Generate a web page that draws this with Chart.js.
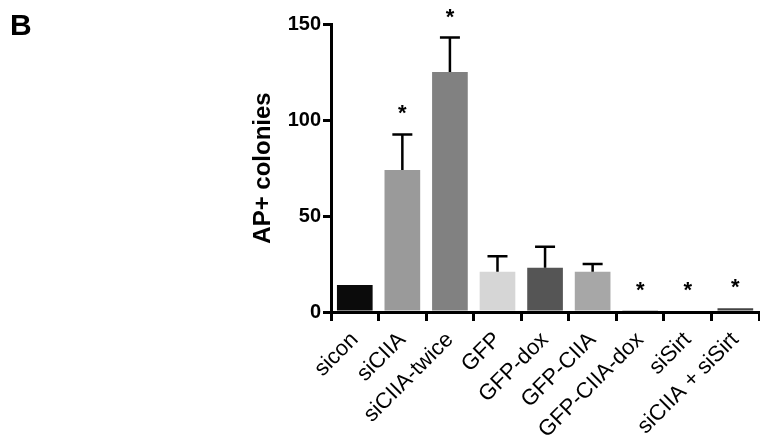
<!DOCTYPE html>
<html>
<head>
<meta charset="utf-8">
<script src="https://cdn.jsdelivr.net/npm/chart.js@4"></script>
<style>
  body { margin: 0; background: #fff; }
  #wrap { position: relative; width: 760px; height: 444px; }
  #panel { position: absolute; left: 10px; top: 8px; font: bold 30px "Liberation Sans", Arial, sans-serif; }
</style>
</head>
<body>
<div id="wrap">
  <div id="panel">B</div>
  <canvas id="ap_chart" width="760" height="444"></canvas>
</div>
<script>
const labels = ['sicon', 'siCIIA', 'siCIIA-twice', 'GFP', 'GFP-dox', 'GFP-CIIA', 'GFP-CIIA-dox', 'siSirt', 'siCIIA + siSirt'];
const colonies = [14, 74, 125, 21, 23, 21, 0.6, 0.8, 2];
const errors = [0, 18.5, 18, 8, 11, 4, 0, 0, 0];
const stars = [false, true, true, false, false, false, true, true, true];
const barColors = ['#0b0b0b', '#9a9a9a', '#818181', '#d6d6d6', '#555555', '#a7a7a7', '#444444', '#444444', '#444444'];
const yTicks = [0, 50, 100, 150];

const font = '"Liberation Sans", Arial, sans-serif';

// error bars (up only) + stars
const errorBars = {
    id: 'errorBars',
    afterDatasetsDraw(chart) {
        const ctx = chart.ctx;
        const y = chart.scales.y;
        const meta = chart.getDatasetMeta(0);
        ctx.save();
        ctx.strokeStyle = '#000';
        ctx.lineWidth = 2.5;
        meta.data.forEach((bar, i) => {
            const top = y.getPixelForValue(colonies[i] + errors[i]);
            if (errors[i] > 0) {
                ctx.beginPath();
                ctx.moveTo(bar.x, bar.y);
                ctx.lineTo(bar.x, top);
                ctx.moveTo(bar.x - 10, top);
                ctx.lineTo(bar.x + 10, top);
                ctx.stroke();
            }
            if (stars[i]) {
                ctx.fillStyle = '#000';
                ctx.font = 'bold 22px ' + font;
                ctx.textAlign = 'center';
                ctx.textBaseline = 'middle';
                ctx.fillText('*', bar.x, top - 20);
            }
        });
        ctx.restore();
    }
};

new Chart(document.getElementById('ap_chart'), {
    type: 'bar',
    data: {
        labels: labels,
        datasets: [{
            data: colonies,
            backgroundColor: barColors,
            borderWidth: 0,
            barPercentage: 0.75,
            categoryPercentage: 1
        }]
    },
    options: {
        responsive: false,
        animation: false,
        layout: { padding: { left: 245, top: 24, right: 0, bottom: 0 } },
        plugins: { legend: { display: false }, tooltip: { enabled: false } },
        scales: {
            x: {
                grid: { display: true, drawOnChartArea: false, drawTicks: true, tickLength: 9, color: '#000', lineWidth: 3 },
                border: { display: true, color: '#000', width: 3 },
                ticks: {
                    color: '#000', autoSkip: false, minRotation: 45, maxRotation: 45,
                    font: { family: font, size: 22 }, padding: 6
                },
                afterFit: s => { s.height = 132; }
            },
            y: {
                min: 0, max: 150,
                afterBuildTicks: s => { s.ticks = yTicks.map(v => ({ value: v })); },
                grid: { display: true, drawOnChartArea: false, drawTicks: true, tickLength: 8, color: '#000', lineWidth: 3 },
                border: { display: true, color: '#000', width: 3 },
                ticks: { color: '#000', font: { family: font, size: 20, weight: 'bold' }, padding: 2 },
                title: { display: true, text: 'AP+ colonies', color: '#000', font: { family: font, size: 24, weight: 'bold' }, padding: 4 },
                afterFit: s => { s.width = 86; }
            }
        }
    },
    plugins: [errorBars]
});
</script>
</body>
</html>
